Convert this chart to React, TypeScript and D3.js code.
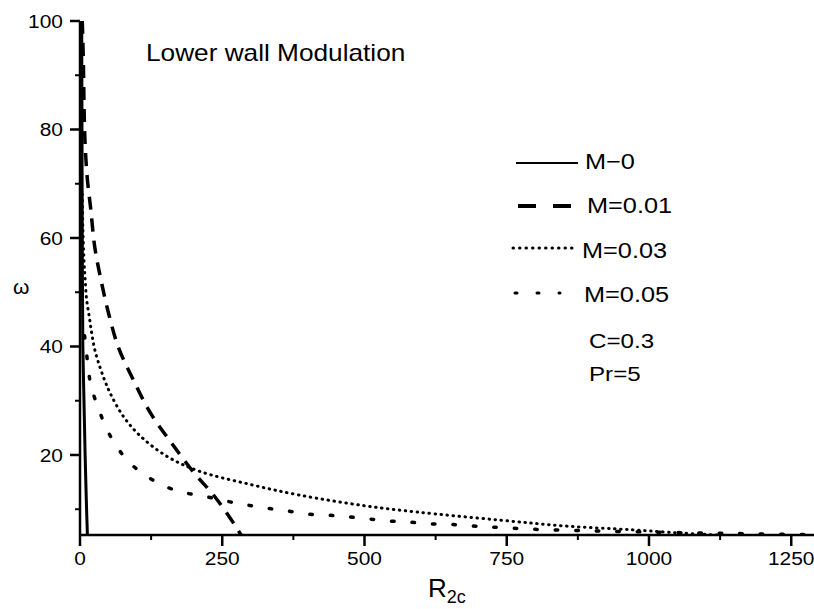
import React from "react";
import * as d3 from "d3";

const W = 814;
const H = 609;

const xTicks = [0, 250, 500, 750, 1000, 1250];
const xMinor = [125, 375, 625, 875, 1125];
const yTicks = [20, 40, 60, 80, 100];
const yMinor = [10, 30, 50, 70, 90];

const m0X = [3, 3.5, 4, 5, 7, 9, 11, 13];
const m0Y = [100, 80, 60, 40, 30, 20, 12, 5.25];

const m001X = [4, 6, 7, 8.8, 12.8, 18.7, 26, 38, 51, 68, 94, 124, 161, 199, 237, 272, 283];
const m001Y = [100, 92, 85, 77.7, 71, 65.5, 58.3, 51.7, 45.8, 39.7, 33.8, 27.7, 22.2, 16.9, 12.3, 7.1, 5.25];

const m003X = [4, 5, 7, 9, 11.7, 16.4, 20.5, 26, 35, 44, 53, 75, 105, 152, 210, 298, 386, 503, 591, 737, 854, 971, 1058, 1120];
const m003Y = [68, 62, 56, 52.5, 48.6, 45.4, 42.5, 39.4, 36.2, 33.6, 31.4, 27.3, 23.6, 19.8, 17.0, 14.6, 12.6, 10.6, 9.5, 8.0, 6.9, 6.2, 5.6, 5.25];

const m005X = [8, 10.5, 14.6, 20.5, 32, 47, 66, 91, 120, 152, 186, 222, 257, 292, 328, 363, 400, 436, 472, 509, 547, 582, 617, 653, 690, 727, 800, 900, 1000, 1100, 1164, 1285];
const m005Y = [42, 40, 35.7, 32.3, 28.7, 24.8, 21.3, 18.2, 15.9, 14.1, 13, 12.3, 11.5, 10.8, 10.2, 9.7, 9.1, 8.9, 8.6, 8.2, 7.8, 7.6, 7.3, 7.2, 6.9, 6.7, 6.3, 6.0, 5.8, 5.6, 5.5, 5.3];

const seriesNames = ["M\u22120", "M=0.01", "M=0.03", "M=0.05"];
const seriesX = [m0X, m001X, m003X, m005X];
const seriesY = [m0Y, m001Y, m003Y, m005Y];
const styles = [
  { w: 3, dash: undefined as string | undefined, cap: "butt", legendDash: undefined as string | undefined },
  { w: 3.5, dash: "13,9", cap: "butt", legendDash: "18,17" },
  { w: 3, dash: "0.5,5.5", cap: "round", legendDash: "0.5,6" },
  { w: 3.5, dash: "2.5,18", cap: "round", legendDash: "2,20" },
];

const FONT = "'Liberation Sans', Arial, sans-serif";

function T({ x, y, size, sx = 1.12, anchor = "start", children }: any) {
  return (
    <g transform={`translate(${x},${y}) scale(${sx},1)`}>
      <text x={0} y={0} fontSize={size} fontFamily={FONT} textAnchor={anchor} fill="#000">
        {children}
      </text>
    </g>
  );
}

export default function App() {
  const x = d3.scaleLinear().domain([0, 1290]).range([80, 814]);
  const y = d3.scaleLinear().domain([5.25, 100]).range([535, 21]);
  const line = d3
    .line<[number, number]>()
    .x((d) => x(d[0]))
    .y((d) => y(d[1]))
    .curve(d3.curveCatmullRom.alpha(0.5));

  const legendY = [163, 206, 248, 293];
  const legendX0 = [516, 518, 513, 515];
  const legendX1 = [578, 572, 572, 560];
  const legendTX = [585, 587, 582, 584];
  const legendTY = [169, 213, 258, 302];

  return (
    <div style={{ position: "absolute", left: 0, top: 0 }}>
      <svg width={W} height={H} style={{ display: "block", background: "#fff" }}>
        <defs>
          <clipPath id="plot">
            <rect x={80} y={15} width={734} height={520} />
          </clipPath>
        </defs>
        <g clipPath="url(#plot)">
          {seriesX.map((xs, i) => (
            <path
              key={i}
              d={line(xs.map((v, j) => [v, seriesY[i][j]]) as [number, number][]) || ""}
              fill="none"
              stroke="#000"
              strokeWidth={styles[i].w}
              strokeDasharray={styles[i].dash}
              strokeLinecap={styles[i].cap as any}
            />
          ))}
        </g>
        {/* axes */}
        <line x1={80} x2={814} y1={y(5.25)} y2={y(5.25)} stroke="#000" strokeWidth={2.5} />
        <line x1={x(0)} x2={x(0)} y1={y(100)} y2={y(5.25)} stroke="#000" strokeWidth={2.5} />
        {xTicks.map((t) => (
          <g key={"xt" + t}>
            <line x1={x(t)} x2={x(t)} y1={535} y2={546} stroke="#000" strokeWidth={2.5} />
            <T x={x(t)} y={565} size={19} anchor="middle" sx={1.1}>{t}</T>
          </g>
        ))}
        {xMinor.map((t) => (
          <line key={"xm" + t} x1={x(t)} x2={x(t)} y1={535} y2={540} stroke="#000" strokeWidth={2} />
        ))}
        {yTicks.map((t) => (
          <g key={"yt" + t}>
            <line x1={70} x2={80} y1={y(t)} y2={y(t)} stroke="#000" strokeWidth={2.5} />
            <T x={63} y={y(t) + 7} size={19} anchor="end" sx={1.1}>{t}</T>
          </g>
        ))}
        {yMinor.map((t) => (
          <line key={"ym" + t} x1={75} x2={80} y1={y(t)} y2={y(t)} stroke="#000" strokeWidth={2} />
        ))}
        {/* axis labels */}
        <T x={13} y={294} size={21} sx={1}>ω</T>
        <text x={428} y={597} fontSize={26} fontFamily={FONT} fill="#000">
          R
          <tspan fontSize={18} dy={6}>2c</tspan>
        </text>
        {/* title */}
        <T x={146} y={61} size={23} sx={1.14}>Lower wall Modulation</T>
        {/* legend */}
        {seriesNames.map((n, i) => (
          <g key={"lg" + i}>
            <line
              x1={legendX0[i]}
              x2={legendX1[i]}
              y1={legendY[i]}
              y2={legendY[i]}
              stroke="#000"
              strokeWidth={i === 0 ? 2 : i === 1 ? 4 : 3}
              strokeDasharray={styles[i].legendDash}
              strokeLinecap={styles[i].cap as any}
            />
            <T x={legendTX[i]} y={legendTY[i]} size={22} sx={1.15}>{n}</T>
          </g>
        ))}
        <T x={589} y={348} size={21} sx={1.15}>C=0.3</T>
        <T x={589} y={381} size={21} sx={1.15}>Pr=5</T>
      </svg>
    </div>
  );
}
